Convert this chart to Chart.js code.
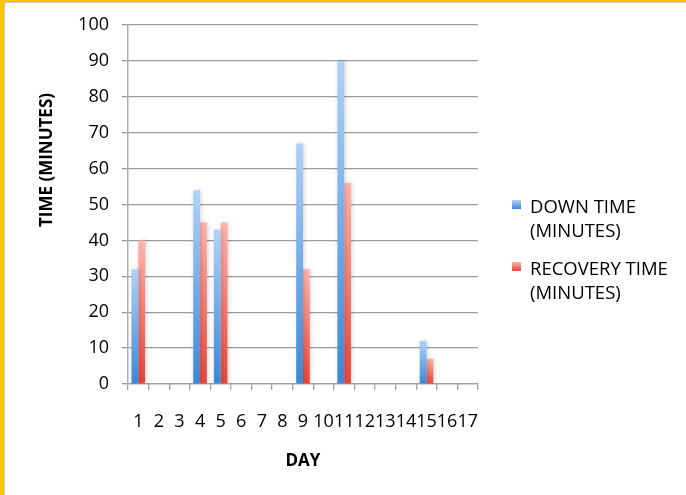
<!DOCTYPE html>
<html>
<head>
<meta charset="utf-8">
<script src="https://cdn.jsdelivr.net/npm/chart.js@4.4.1/dist/chart.umd.min.js"></script>
<style>
  html, body { margin: 0; padding: 0; background: #fff; }
  #wrap { position: relative; width: 686px; height: 495px; overflow: hidden; }
  #frame {
    position: absolute; left: 0; top: 0; right: 0; bottom: 0;
    border-top: 2px solid #f7c600; border-left: 4px solid #f7c600;
    box-shadow: inset 1px 1px 0 #c8c8c8;
    pointer-events: none;
  }
  canvas { position: absolute; left: 0; top: 0; }
</style>
</head>
<body>
<div id="wrap">
  <canvas id="c" width="686" height="495"></canvas>
  <div id="frame"></div>
</div>
<script>
// Days on the x axis
const days = ['1','2','3','4','5','6','7','8','9','10','11','12','13','14','15','16','17'];
// Minutes per day (null = no event that day)
const downTime     = [32, null, null, 54, 43, null, null, null, 67, null, 90, null, null, null, 12, null, null];
const recoveryTime = [40, null, null, 45, 45, null, null, null, 32, null, 56, null, null, null, 7, null, null];
// Series names, each split over two legend lines
const seriesNames = [['DOWN TIME', '(MINUTES)'], ['RECOVERY TIME', '(MINUTES)']];
// Axis titles and ticks
const xTitle = 'DAY';
const yTitle = 'TIME (MINUTES)';
const yMin = 0, yMax = 100, yStep = 10;

const FONT = '"Open Sans", "Liberation Sans", sans-serif';
const palettes = [
  { top: '#b0d2fa', bottom: '#3a87d6' },
  { top: '#fdb4ab', bottom: '#e8443a' }
];

function barGradient(idx) {
  return function (ctx) {
    const chart = ctx.chart;
    const y = chart.scales && chart.scales.y;
    if (!y || !chart.chartArea || ctx.raw == null) return palettes[idx].bottom;
    const top = y.getPixelForValue(ctx.raw);
    const base = y.getPixelForValue(0);
    if (!isFinite(top) || !isFinite(base) || top === base) return palettes[idx].bottom;
    const g = chart.ctx.createLinearGradient(0, top, 0, base);
    g.addColorStop(0, palettes[idx].top);
    g.addColorStop(1, palettes[idx].bottom);
    return g;
  };
}

// Soft halo behind the bars
const barShadow = {
  id: 'barShadow',
  beforeDatasetsDraw(chart) {
    const c = chart.ctx;
    c.save();
    c.shadowColor = 'rgba(0,0,0,0.18)';
    c.shadowBlur = 4;
    c.shadowOffsetX = 1;
    c.shadowOffsetY = 0;
  },
  afterDatasetsDraw(chart) { chart.ctx.restore(); }
};

// Axis titles and the two-line legend on the right
const decorations = {
  id: 'decorations',
  afterDraw(chart) {
    const c = chart.ctx;
    const a = chart.chartArea;
    c.save();
    c.fillStyle = '#000';
    c.font = 'bold 17px ' + FONT;
    c.textAlign = 'center';
    c.textBaseline = 'middle';
    c.fillText(xTitle, (a.left + a.right) / 2, 461);
    c.translate(47, 160);
    c.rotate(-Math.PI / 2);
    c.fillText(yTitle, 0, 0);
    c.restore();

    c.save();
    c.font = '18.5px ' + FONT;
    c.textAlign = 'left';
    c.textBaseline = 'middle';
    const startY = [208, 270];
    seriesNames.forEach((lines, i) => {
      const y0 = startY[i];
      const g = c.createLinearGradient(0, y0 - 8, 0, y0 + 1);
      g.addColorStop(0, palettes[i].top);
      g.addColorStop(1, palettes[i].bottom);
      c.fillStyle = g;
      c.fillRect(512, y0 - 8, 9, 9);
      c.fillStyle = '#000';
      lines.forEach((t, k) => c.fillText(t, 530, y0 + k * 24));
    });
    c.restore();
  }
};

new Chart(document.getElementById('c'), {
  type: 'bar',
  data: {
    labels: days,
    datasets: [
      { label: seriesNames[0].join(' '), data: downTime, backgroundColor: barGradient(0) },
      { label: seriesNames[1].join(' '), data: recoveryTime, backgroundColor: barGradient(1) }
    ]
  },
  options: {
    responsive: false,
    animation: false,
    devicePixelRatio: 1,
    categoryPercentage: 0.66,
    barPercentage: 1.0,
    layout: { padding: { left: 0, right: 208, top: 25, bottom: 0 } },
    plugins: { legend: { display: false }, tooltip: { enabled: false } },
    scales: {
      x: {
        afterFit(s) { s.height = 111; },
        grid: { offset: true, drawOnChartArea: false, color: '#a0a0a0', lineWidth: 1.3, tickLength: 6 },
        border: { color: '#a0a0a0', width: 1.3 },
        ticks: { autoSkip: false, maxRotation: 0, minRotation: 0, padding: 21, color: '#000', font: { family: FONT, size: 18 } }
      },
      y: {
        min: yMin, max: yMax,
        afterFit(s) { s.width = 128; },
        grid: { color: '#9a9a9a', lineWidth: 1.3, tickLength: 6 },
        border: { color: '#b0b0b0', width: 1.5 },
        ticks: { stepSize: yStep, padding: 13, color: '#000', font: { family: FONT, size: 18 } }
      }
    }
  },
  plugins: [barShadow, decorations]
});
</script>
</body>
</html>
